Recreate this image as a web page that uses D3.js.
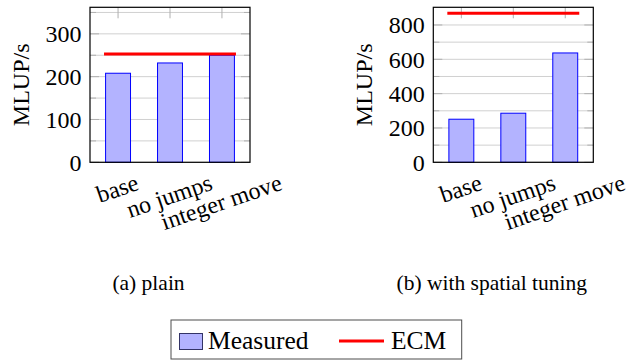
<!DOCTYPE html>
<html>
<head>
<meta charset="utf-8">
<script src="https://cdn.jsdelivr.net/npm/d3@7"></script>
<style>
  html, body { margin: 0; padding: 0; background: #fff; }
  svg { display: block; }
</style>
</head>
<body>
<svg id="chart" width="628" height="360"></svg>
<script>
// ---------------- data ----------------
const categories = ["base", "no jumps", "integer move"];
const plainMeasured = [208, 232, 250];
const plainECM = 253;
const spatialMeasured = [251, 286, 637];
const spatialECM = 869;
const plainTicks = [0, 100, 200, 300];
const plainMinorTicks = [50, 150, 250, 350];
const spatialTicks = [0, 200, 400, 600, 800];
const spatialMinorTicks = [100, 300, 500, 700];
const plainMax = 362;
const spatialMax = 903;
const yLabel = "MLUP/s";
const captions = ["(a) plain", "(b) with spatial tuning"];
const legendLabels = ["Measured", "ECM"];

// ---------------- layout / style ----------------
const FONT = "'Liberation Serif', 'Times New Roman', Times, 'Nimbus Roman', 'Nimbus Roman No9 L', FreeSerif, 'Noto Serif', 'DejaVu Serif', Georgia, serif";
const svg = d3.select("#chart");
const frameTop = 7.3, frameBottom = 162.3;
const barFill = "#b3b3ff", barStroke = "#0000ff", ecmColor = "#ff0000";
const gridColor = "#d0d0d0", tickColor = "#b0b0b0";
const tickFont = 24, capFont = 21.5, legFont = 25.5;
const labelAngle = 19;

function txt(sel, size) {
  return sel.attr("font-family", FONT).style("font-family", FONT)
    .style("font-size", size + "px").attr("fill", "#000");
}

function drawPanel(opt) {
  const g = svg.append("g");
  const x = d3.scaleLinear().domain([-0.54, 2.54]).range([opt.x0, opt.x1]);
  const y = d3.scaleLinear().domain([0, opt.ymax]).range([frameBottom, frameTop]);
  const halfBar = 0.24, ecmHalf = 0.27;

  const allY = opt.ticks.concat(opt.minor);
  g.selectAll("line.grid").data(allY).join("line")
    .attr("x1", opt.x0).attr("x2", opt.x1)
    .attr("y1", d => y(d)).attr("y2", d => y(d))
    .attr("stroke", gridColor).attr("stroke-width", 1);

  const yt = allY.map(v => ({v, len: opt.ticks.includes(v) ? 9 : 6}));
  g.selectAll("line.ytl").data(yt).join("line")
    .attr("x1", opt.x0).attr("x2", d => opt.x0 + d.len)
    .attr("y1", d => y(d.v)).attr("y2", d => y(d.v))
    .attr("stroke", tickColor).attr("stroke-width", 1);
  g.selectAll("line.ytr").data(yt).join("line")
    .attr("x1", opt.x1).attr("x2", d => opt.x1 - d.len)
    .attr("y1", d => y(d.v)).attr("y2", d => y(d.v))
    .attr("stroke", tickColor).attr("stroke-width", 1);

  g.selectAll("line.xtt").data(categories).join("line")
    .attr("x1", (d, i) => x(i)).attr("x2", (d, i) => x(i))
    .attr("y1", frameTop).attr("y2", frameTop + 11)
    .attr("stroke", tickColor).attr("stroke-width", 1);
  g.selectAll("line.xtb").data(categories).join("line")
    .attr("x1", (d, i) => x(i)).attr("x2", (d, i) => x(i))
    .attr("y1", frameBottom).attr("y2", frameBottom - 11)
    .attr("stroke", tickColor).attr("stroke-width", 1);

  g.selectAll("rect.bar").data(opt.values).join("rect")
    .attr("x", (d, i) => x(i - halfBar))
    .attr("width", (d, i) => x(i + halfBar) - x(i - halfBar))
    .attr("y", d => y(d))
    .attr("height", d => frameBottom - y(d))
    .attr("fill", barFill).attr("stroke", barStroke).attr("stroke-width", 1);

  const line = d3.line().x(d => x(d[0])).y(d => y(d[1]));
  g.append("path")
    .attr("d", line([[0 - ecmHalf, opt.ecm], [categories.length - 1 + ecmHalf, opt.ecm]]))
    .attr("stroke", ecmColor).attr("stroke-width", 3).attr("fill", "none");

  g.append("rect")
    .attr("x", opt.x0).attr("y", frameTop)
    .attr("width", opt.x1 - opt.x0).attr("height", frameBottom - frameTop)
    .attr("fill", "none").attr("stroke", "#000").attr("stroke-width", 1.2);

  txt(g.selectAll("text.yl").data(opt.ticks).join("text"), tickFont)
    .attr("x", opt.x0 - 8.5).attr("y", d => y(d) + 8.2)
    .attr("text-anchor", "end")
    .text(d => d);

  txt(g.append("text"), tickFont)
    .attr("transform", `translate(${opt.x0 - 61.5},${(frameTop + frameBottom) / 2}) rotate(-90)`)
    .attr("text-anchor", "middle")
    .text(yLabel);

  const th = labelAngle * Math.PI / 180;
  const Y0 = frameBottom + 11;
  categories.forEach((c, i) => {
    const t = txt(g.append("text"), tickFont).attr("text-anchor", "middle").text(c);
    const w = t.node().getComputedTextLength();
    const h = 0.7 * tickFont, dpt = 0.2 * tickFont;
    const corners = [[-w / 2, -h], [w / 2, -h], [-w / 2, dpt], [w / 2, dpt]]
      .map(([px, py]) => [px * Math.cos(th) + py * Math.sin(th), -px * Math.sin(th) + py * Math.cos(th)]);
    const minY = d3.min(corners, p => p[1]);
    const cx = (d3.min(corners, p => p[0]) + d3.max(corners, p => p[0])) / 2;
    t.attr("transform", `translate(${x(i) - cx},${Y0 - minY}) rotate(${-labelAngle})`);
  });

  txt(g.append("text"), capFont)
    .attr("x", (opt.x0 + opt.x1) / 2 - 21.5).attr("y", 289.5)
    .attr("text-anchor", "middle")
    .text(opt.caption);
}

drawPanel({x0: 90, x1: 250, ymax: plainMax, ticks: plainTicks, minor: plainMinorTicks,
           values: plainMeasured, ecm: plainECM, caption: captions[0]});
drawPanel({x0: 433.3, x1: 593.3, ymax: spatialMax, ticks: spatialTicks, minor: spatialMinorTicks,
           values: spatialMeasured, ecm: spatialECM, caption: captions[1]});

const lg = svg.append("g");
lg.append("rect").attr("x", 171).attr("y", 320).attr("width", 290.7).attr("height", 39)
  .attr("fill", "#fff").attr("stroke", "#4d4d4d").attr("stroke-width", 1);
lg.append("rect").attr("x", 179.5).attr("y", 333.5).attr("width", 23).attr("height", 16)
  .attr("fill", barFill).attr("stroke", "#333366").attr("stroke-width", 1);
txt(lg.append("text"), legFont).attr("x", 208).attr("y", 348.5).text(legendLabels[0]);
lg.append("line").attr("x1", 339).attr("x2", 384).attr("y1", 341).attr("y2", 341)
  .attr("stroke", ecmColor).attr("stroke-width", 3);
txt(lg.append("text"), legFont).attr("x", 391).attr("y", 348.5).text(legendLabels[1]);
</script>
</body>
</html>
